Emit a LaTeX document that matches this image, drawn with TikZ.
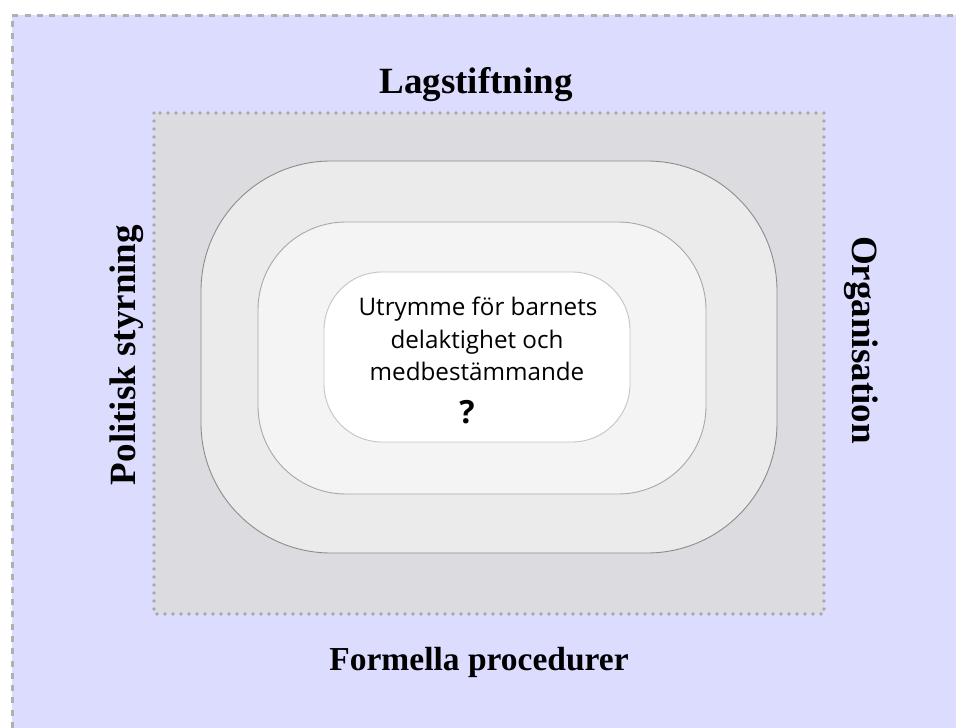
\documentclass[tikz,border=0pt]{standalone}
\usepackage{fontspec}
\newfontfamily\titlefont{Liberation Serif}
\newfontfamily\innerfont{Open Sans}
\definecolor{lav}{HTML}{DCDCFF}
\definecolor{framegray}{HTML}{B0B0B0}
\definecolor{dotgray}{HTML}{A8A8A8}
\definecolor{panel}{HTML}{DCDCE0}
\definecolor{ringA}{HTML}{EBEBEB}
\definecolor{ringAline}{HTML}{8C8C8C}
\definecolor{ringB}{HTML}{F4F4F4}
\definecolor{ringBline}{HTML}{A8A8A8}
\definecolor{ringCline}{HTML}{C4C4C4}
\tikzset{
  titletext/.style={font=\titlefont\bfseries\fontsize{37}{42}\selectfont, text=black, inner sep=0pt, anchor=base},
  innertext/.style={font=\innerfont\fontsize{24.2}{30}\selectfont, text=black, inner sep=0pt, anchor=base},
}
\begin{document}
\begin{tikzpicture}[x=1pt,y=-1pt]
\useasboundingbox (0,0) rectangle (956,728);
% background
\fill[lav] (12,15) rectangle (956,728);
\draw[framegray, line width=3pt, dash pattern=on 6pt off 6.3pt] (12,728) -- (12,15) -- (956,15);
% panel
\fill[panel] (154,113) rectangle (824,614);
\draw[dotgray, line width=3.8pt, line cap=round, dash pattern=on 0pt off 8pt] (154,113) rectangle (824,614);
% rings
\node[draw=ringAline, fill=ringA, line width=0.9pt, rounded corners=130pt,
      minimum width=576pt, minimum height=392pt, inner sep=0pt] (outer) at (489,357) {};
\node[draw=ringBline, fill=ringB, line width=0.9pt, rounded corners=88pt,
      minimum width=448pt, minimum height=272pt, inner sep=0pt] (middle) at (482,358) {};
\node[draw=ringCline, fill=white, line width=0.9pt, rounded corners=58pt,
      minimum width=306pt, minimum height=170pt, inner sep=0pt] (inner) at (477,357) {};
% inner text
\node[innertext] (l1) at (478,315) {Utrymme för barnets};
\node[innertext] (l2) at (477,348) {delaktighet och};
\node[innertext] (l3) at (477,380) {medbestämmande};
\node[innertext, font=\innerfont\bfseries\fontsize{32}{34}\selectfont] (q) at (467,423) {?};
% titles
\node[titletext] (top) at (476,93) {Lagstiftning};
\node[titletext, font=\titlefont\bfseries\fontsize{33.5}{38}\selectfont] (bottom) at (479,670) {Formella procedurer};
\node[titletext, rotate=90] (left) at (135,355) {Politisk styrning};
\node[titletext, rotate=-90] (right) at (852,340) {Organisation};
\end{tikzpicture}
\end{document}
